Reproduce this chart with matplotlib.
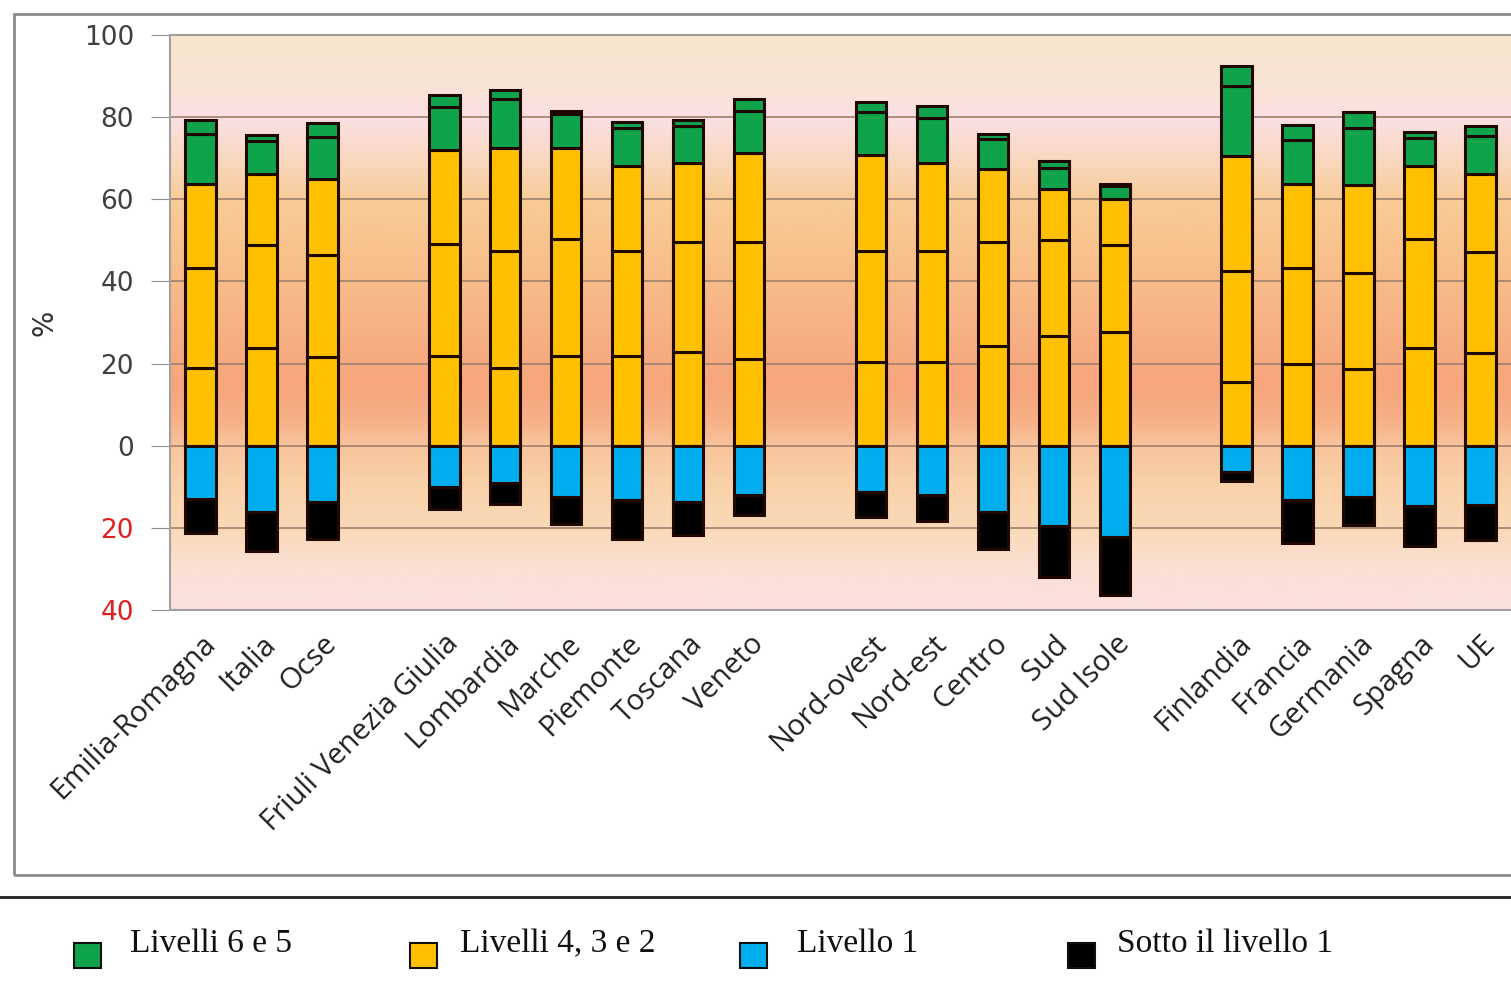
import matplotlib
matplotlib.use("Agg")
import matplotlib.pyplot as plt
import numpy as np
from matplotlib.colors import LinearSegmentedColormap
from matplotlib.patches import Rectangle
from matplotlib.lines import Line2D

# categories (None = empty slot between groups)
labels = ["Emilia-Romagna", "Italia", "Ocse", None,
          "Friuli Venezia Giulia", "Lombardia", "Marche", "Piemonte", "Toscana", "Veneto", None,
          "Nord-ovest", "Nord-est", "Centro", "Sud", "Sud Isole", None,
          "Finlandia", "Francia", "Germania", "Spagna", "UE"]

# percentages of students per proficiency level
liv2 = [19.0, 23.9, 21.7, 21.9, 19.0, 21.9, 21.9, 22.9, 21.1, 20.3, 20.3, 24.3, 26.8, 27.7, 15.5, 20.0, 18.6, 23.9, 22.5]
liv3 = [24.2, 24.9, 24.7, 27.2, 28.5, 28.5, 25.6, 26.7, 28.5, 27.2, 27.2, 25.3, 23.2, 21.1, 27.0, 23.2, 23.4, 26.3, 24.6]
liv4 = [20.6, 17.4, 18.5, 22.9, 25.0, 22.1, 20.6, 19.3, 21.7, 23.2, 21.4, 17.7, 12.5, 11.3, 28.0, 20.6, 21.5, 17.9, 19.1]
liv5 = [12.0, 7.9, 10.3, 10.4, 11.8, 8.2, 9.2, 8.9, 10.3, 10.5, 11.0, 7.3, 5.1, 3.2, 17.1, 10.6, 13.8, 6.8, 9.2]
liv6 = [3.4, 1.5, 3.3, 3.1, 2.4, 0.9, 1.6, 1.4, 2.7, 2.4, 2.7, 1.2, 1.7, 0.5, 4.9, 3.6, 3.9, 1.4, 2.4]
liv1 = [13.0, 16.1, 13.8, 10.1, 9.0, 12.6, 13.2, 13.8, 11.9, 11.3, 11.9, 16.1, 19.6, 22.2, 6.3, 13.2, 12.6, 14.8, 14.5]
sotto1 = [8.3, 9.5, 8.9, 5.2, 5.2, 6.4, 9.5, 7.9, 5.0, 6.1, 6.5, 9.0, 12.3, 14.2, 2.2, 10.5, 6.7, 9.6, 8.5]

yticks = [-40, -20, 0, 20, 40, 60, 80, 100]

col_green = "#0fa34c"
col_yellow = "#ffc000"
col_blue = "#00aeef"
col_black = "#000000"
edge = "#1e0800"

x = np.array([i for i, l in enumerate(labels) if l is not None])
names = [l for l in labels if l is not None]

fig = plt.figure(figsize=(15.11, 9.96), dpi=100)
ax = fig.add_axes([0.1125, 0.3876, 0.8875, 0.5773])

# gradient background of the plot area
stops = [(-40, "#fbe0e0"), (-30, "#fbe0d4"), (-20, "#fad9b8"), (-10, "#f9d2aa"),
         (0, "#f8c49c"), (6, "#f7b088"), (15, "#f6a57c"), (30, "#f7b286"),
         (45, "#f8c08a"), (60, "#f8cc98"), (70, "#f9d8c0"), (80, "#fbe0e4"),
         (88, "#f9e4d4"), (100, "#f8e6cc")]
cmap = LinearSegmentedColormap.from_list(
    "bg", [((v + 40) / 140, c) for v, c in stops])
grad = np.linspace(0, 1, 256).reshape(-1, 1)
ax.imshow(grad, cmap=cmap, aspect="auto", origin="lower",
          extent=[-0.5, 21.5, -40, 100], zorder=0)

w = 0.5
kw = dict(width=w, edgecolor=edge, linewidth=2.2, zorder=3)
b = np.zeros(len(x))
for vals, c in [(liv2, col_yellow), (liv3, col_yellow), (liv4, col_yellow),
                (liv5, col_green), (liv6, col_green)]:
    ax.bar(x, vals, bottom=b, color=c, **kw)
    b = b + np.array(vals)
ax.bar(x, -np.array(liv1), color=col_blue, **kw)
ax.bar(x, -np.array(sotto1), bottom=-np.array(liv1), color=col_black, **kw)

ax.set_xlim(-0.5, 21.5)
ax.set_ylim(-40, 100)
ax.set_yticks(yticks)
ax.set_yticklabels([str(abs(v)) for v in yticks], fontsize=19)
for t, v in zip(ax.get_yticklabels(), yticks):
    t.set_color("#e02020" if v < 0 else "#404040")
ax.yaxis.grid(True, color="#a0806a", linewidth=1.2)
for gl in ax.get_ygridlines():
    gl.set_zorder(1)
ax.tick_params(axis="y", length=14, color="#909090", pad=12)
ax.tick_params(axis="x", length=0, pad=14)
ax.set_xticks(x)
ax.set_xticklabels(names, rotation=45, ha="right", va="top",
                   rotation_mode="anchor", fontsize=21, family="Open Sans",
                   color="#202020")
for s in ["left", "top", "bottom"]:
    ax.spines[s].set_color("#a0a0a0")
    ax.spines[s].set_linewidth(1.5)
ax.spines["right"].set_visible(False)
ax.set_ylabel("%", fontsize=20, color="#303030")
ax.yaxis.set_label_coords(-0.083, 0.5)

# outer chart frame and separator line
fig.patches.append(Rectangle((14 / 1511, 1 - 875 / 996), 1.1, (875 - 14) / 996,
                             transform=fig.transFigure, fill=False,
                             edgecolor="#8c8c8c", linewidth=2))
fig.lines.append(Line2D([0, 1], [1 - 897 / 996, 1 - 897 / 996],
                        transform=fig.transFigure, color="#202020", linewidth=2))

# legend drawn below the chart
leg_names = ["Livelli 6 e 5", "Livelli 4, 3 e 2", "Livello 1", "Sotto il livello 1"]
leg_cols = [col_green, col_yellow, col_blue, col_black]
mark_x = [74, 410, 740, 1068]
text_x = [130, 460, 797, 1117]
for n, c, mx, tx in zip(leg_names, leg_cols, mark_x, text_x):
    fig.patches.append(Rectangle((mx / 1511, 1 - 968 / 996), 27 / 1511, 25 / 996,
                                 transform=fig.transFigure, facecolor=c,
                                 edgecolor="#101010", linewidth=1.5))
    fig.text(tx / 1511, 1 - 952 / 996, n, fontsize=24, family="Liberation Serif",
             color="#101010", ha="left", va="baseline")

fig.savefig("out.png", dpi=100)
